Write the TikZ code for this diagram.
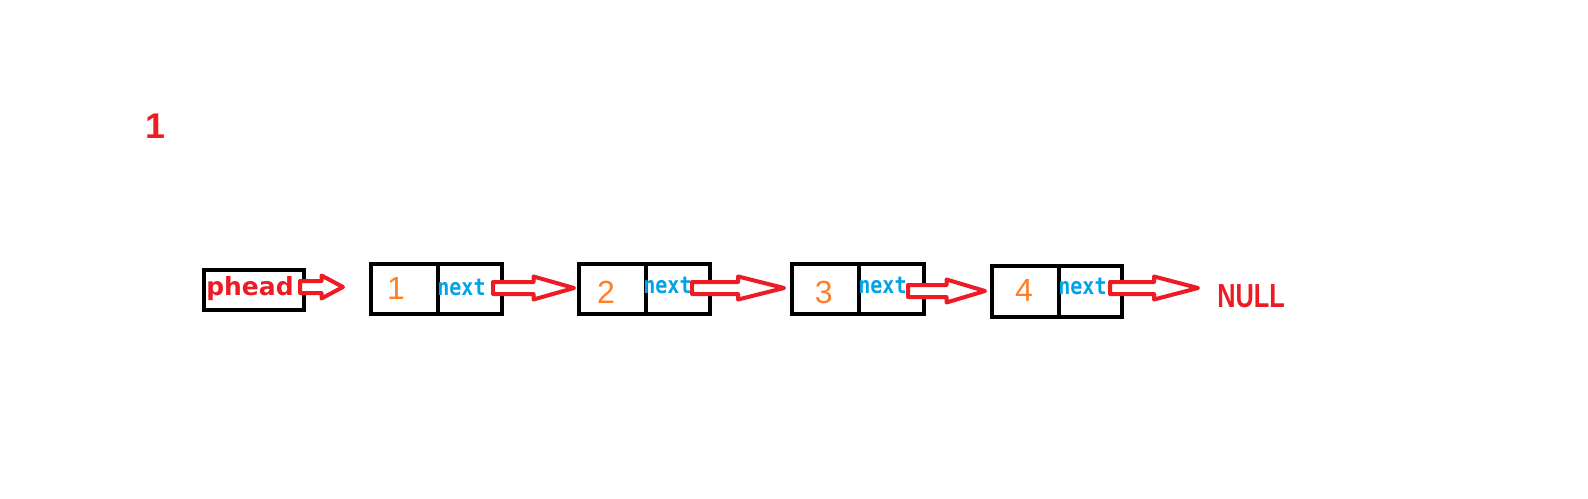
\documentclass[tikz,border=0pt]{standalone}
\usepackage{fontspec}
\setmainfont{Liberation Sans}
\newfontfamily\djb{DejaVu Sans}
\newfontfamily\djm{DejaVu Sans Mono}
\definecolor{pred}{HTML}{ED1C24}
\definecolor{porange}{HTML}{FF7F27}
\definecolor{pblue}{HTML}{00A2E8}
\tikzset{
  cell/.style={draw=black, line width=3pt, inner sep=0pt, outer sep=0pt, minimum height=37.7pt},
  numtxt/.style={text=porange, font=\fontsize{24pt}{24pt}\selectfont, inner sep=0pt, anchor=base},
  nexttxt/.style={text=pblue, font=\djm\bfseries\fontsize{17.5pt}{17.5pt}\selectfont, inner sep=0pt, anchor=base west},
  harrow/.style={draw=pred, fill=white, line width=3pt, line join=round}
}
\newcommand\nxt{\scalebox{0.86}[1]{next}}
\newcommand\hollowarrow[4]{%
  \coordinate (s#1) at (#2,#4);
  \coordinate (t#1) at (#3,#4);
  \draw[harrow] ($(s#1)+(0,-6)$) -- ($(t#1)!0.5!(s#1)+(0,-6)$) -- ($(t#1)!0.5!(s#1)+(0,-11.5)$)
     -- (t#1) -- ($(t#1)!0.5!(s#1)+(0,11.5)$) -- ($(t#1)!0.5!(s#1)+(0,6)$) -- ($(s#1)+(0,6)$) -- cycle;}
\usetikzlibrary{calc}
\begin{document}
\begin{tikzpicture}[x=0.75pt,y=-0.75pt]
\useasboundingbox (0,0) rectangle (1588,499);
% title number
\node[text=pred, font=\bfseries\fontsize{26.8pt}{26.8pt}\selectfont, inner sep=0pt, anchor=base] (title) at (155.5,138.3) {1};
% phead
\node[cell, minimum width=75.2pt, minimum height=30pt] (phead) at (253.85,290.3) {};
\node[text=pred, font=\djb\bfseries\fontsize{18.75pt}{18.75pt}\selectfont, inner sep=0pt, anchor=base west] (pheadtxt) at (206,295) {phead};
% box 1
\node[cell, minimum width=50.25pt] (d1) at (404.5,288.85) {};
\node[cell, minimum width=48pt] (n1) at (470,288.85) {};
% box 2
\node[cell, minimum width=49.8pt] (d2) at (612.5,288.85) {};
\node[cell, minimum width=48pt] (n2) at (677.7,288.85) {};
% box 3
\node[cell, minimum width=50.5pt] (d3) at (825.65,288.85) {};
\node[cell, minimum width=48.3pt] (n3) at (891.5,288.85) {};
% box 4
\node[cell, minimum width=50.5pt, minimum height=38.25pt] (d4) at (1025.65,291.8) {};
\node[cell, minimum width=47pt, minimum height=38.25pt] (n4) at (1090.65,291.8) {};
% numbers
\node[numtxt] (v1) at (396,299) {1};
\node[numtxt] (v2) at (606,303) {2};
\node[numtxt] (v3) at (823.7,303) {3};
\node[numtxt] (v4) at (1024,301.7) {4};
% next labels
\node[nexttxt] (x1) at (437,295) {\nxt};
\node[nexttxt] (x2) at (643,293) {\nxt};
\node[nexttxt] (x3) at (858,293) {\nxt};
\node[nexttxt] (x4) at (1058,294) {\nxt};
% NULL
\node[text=pred, font=\bfseries\fontsize{25pt}{25pt}\selectfont, inner sep=0pt, anchor=base west] (null) at (1217,307) {\scalebox{0.76}[1]{NULL}};
% arrows
\hollowarrow{0}{300}{343}{287}
\hollowarrow{1}{493}{574}{288}
\hollowarrow{2}{692}{784}{288}
\hollowarrow{3}{908}{985}{291}
\hollowarrow{4}{1110}{1198}{288}
\end{tikzpicture}
\end{document}
